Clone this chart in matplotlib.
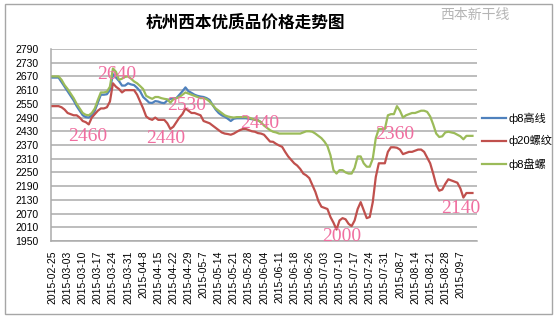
import matplotlib
matplotlib.use("Agg")
import matplotlib.pyplot as plt
import numpy as np
from matplotlib.patches import Rectangle

# ------------------------------------------------------------------
# data: daily quotes, five trading days per weekly tick label
# ------------------------------------------------------------------
WEEK_LABELS = [
    "2015-02-25", "2015-03-03", "2015-03-10", "2015-03-17", "2015-03-24",
    "2015-03-31", "2015-04-8", "2015-04-15", "2015-04-22", "2015-04-29",
    "2015-05-7", "2015-05-14", "2015-05-21", "2015-05-28", "2015-06-04",
    "2015-06-11", "2015-06-18", "2015-06-26", "2015-07-03", "2015-07-10",
    "2015-07-17", "2015-07-24", "2015-07-31", "2015-08-7", "2015-08-14",
    "2015-08-21", "2015-08-28", "2015-09-7",
]
DAYS_PER_LABEL = 5

# ф8高线 (quotes stop in early June)
WIRE_ROD = [
    2665, 2665, 2665, 2645, 2625,
    2605, 2585, 2565, 2540, 2520,
    2500, 2492, 2490, 2500, 2520,
    2555, 2590, 2590, 2592, 2610,
    2680, 2665, 2650, 2630, 2630,
    2640, 2635, 2632, 2620, 2605,
    2580, 2568, 2555, 2554, 2562,
    2560, 2555, 2553, 2565, 2572,
    2574, 2575, 2590, 2605, 2622,
    2605, 2598, 2590, 2585, 2582,
    2580, 2575, 2567, 2545, 2525,
    2510, 2500, 2494, 2485, 2475,
    2485, 2487, 2487, 2487, 2487,
    2485, 2483, 2480, 2478, 2470,
]

# ф20螺纹
REBAR = [
    2540, 2540, 2540, 2535, 2525,
    2510, 2505, 2500, 2500, 2490,
    2475, 2470, 2460, 2490, 2505,
    2520, 2530, 2530, 2535, 2560,
    2640, 2625, 2615, 2600, 2610,
    2610, 2610, 2610, 2590, 2560,
    2530, 2495, 2485, 2480, 2490,
    2480, 2480, 2480, 2465, 2440,
    2450, 2470, 2490, 2505, 2530,
    2520, 2510, 2510, 2505, 2500,
    2475, 2470, 2465, 2455, 2445,
    2435, 2425, 2420, 2418, 2415,
    2420, 2428, 2435, 2440, 2440,
    2435, 2430, 2428, 2422, 2420,
    2415, 2400, 2385, 2384, 2375,
    2368, 2362, 2340, 2320, 2305,
    2290, 2280, 2265, 2245, 2237,
    2225, 2195, 2165, 2125, 2100,
    2095, 2090, 2055, 2030, 2000,
    2040, 2050, 2045, 2025, 2015,
    2040, 2090, 2120, 2085, 2050,
    2055, 2120, 2230, 2290, 2290,
    2290, 2340, 2360, 2360, 2358,
    2350, 2330, 2335, 2340, 2340,
    2345, 2350, 2350, 2340, 2315,
    2290, 2245, 2195, 2170, 2175,
    2200, 2220, 2215, 2210, 2205,
    2180, 2140, 2160, 2160, 2160,
]

# ф8盘螺
COIL = [
    2670, 2670, 2670, 2655, 2632,
    2615, 2595, 2575, 2550, 2530,
    2510, 2502, 2500, 2510, 2530,
    2567, 2600, 2600, 2603, 2625,
    2705, 2690, 2655, 2660, 2668,
    2670, 2660, 2648, 2640, 2628,
    2615, 2585, 2578, 2572, 2580,
    2580, 2575, 2572, 2570, 2555,
    2570, 2575, 2580, 2590, 2600,
    2595, 2590, 2585, 2580, 2575,
    2575, 2570, 2560, 2545, 2530,
    2520, 2510, 2500, 2495, 2492,
    2490, 2492, 2492, 2492, 2492,
    2490, 2485, 2480, 2478, 2470,
    2455, 2445, 2435, 2428, 2425,
    2420, 2420, 2420, 2420, 2420,
    2420, 2420, 2420, 2425, 2430,
    2430, 2428, 2420, 2410, 2400,
    2385, 2365, 2325, 2260, 2245,
    2260, 2260, 2250, 2245, 2245,
    2270, 2320, 2320, 2290, 2275,
    2275, 2310, 2400, 2440, 2440,
    2440, 2500, 2505, 2505, 2540,
    2520, 2490, 2500, 2505, 2510,
    2510, 2515, 2520, 2520, 2515,
    2495, 2460, 2420, 2405, 2408,
    2425, 2428, 2425, 2422, 2415,
    2408, 2395, 2410, 2410, 2410,
]

# rebar days whose price is written on the chart
REBAR_MARKED_DAYS = [20, 12, 39, 44, 63, 112, 94, 136]
# text offsets from each marked point, in points
MARK_OFFSETS = [(3, 6), (-1, -9), (-3, -7), (1, 2), (12, 4), (3, 9), (4, -5), (-2, -8)]

SERIES_NAMES = ["ф8高线", "ф20螺纹", "ф8盘螺"]
SERIES_COLORS = ["#4F81BD", "#C0504D", "#9BBB59"]

# ------------------------------------------------------------------
# style
# ------------------------------------------------------------------
plt.rcParams.update({
    "font.family": ["Liberation Sans", "Noto Sans CJK SC", "DejaVu Sans"],
    "font.size": 7.5,
})
GRID_COLOR = "#ABABAB"
MARK_COLOR = "#F06EA0"

W, H = 558, 322
fig = plt.figure(figsize=(W / 100, H / 100), dpi=100)
fig.patch.set_facecolor("white")

# chart area frame
fig.add_artist(Rectangle((5 / W, 8 / H), 547 / W, 310 / H, transform=fig.transFigure,
                         fill=False, edgecolor="#A6A6A6", linewidth=1.0))

ax = fig.add_axes([51 / W, 81 / H, 426 / W, 192 / H])

for values, color, name in zip([WIRE_ROD, REBAR, COIL], SERIES_COLORS, SERIES_NAMES):
    ax.plot(np.arange(len(values)), values, color=color, linewidth=1.6,
            solid_joinstyle="round", label=name, zorder=3)

for day, (dx, dy) in zip(REBAR_MARKED_DAYS, MARK_OFFSETS):
    ax.annotate(str(REBAR[day]), xy=(day, REBAR[day]), xytext=(dx, dy),
                textcoords="offset points", ha="center", va="center",
                fontsize=14, color=MARK_COLOR, family="Liberation Serif", zorder=4)

n_days = len(WEEK_LABELS) * DAYS_PER_LABEL
ax.set_xlim(-0.5, n_days + 0.5)
ax.set_ylim(1950, 2790)
ax.set_yticks(np.arange(1950, 2791, 60))
ax.set_xticks(np.arange(0, n_days, DAYS_PER_LABEL))
ax.set_xticklabels(WEEK_LABELS, rotation=90)
ax.tick_params(axis="both", length=0, labelsize=7.5)
ax.tick_params(axis="y", pad=9)
ax.tick_params(axis="x", pad=7)

ax.grid(True, axis="y", color=GRID_COLOR, linewidth=1.1)
ax.set_axisbelow(True)
for side in ["top", "right"]:
    ax.spines[side].set_visible(False)
for side in ["left", "bottom"]:
    ax.spines[side].set_color(GRID_COLOR)
    ax.spines[side].set_linewidth(1.1)

fig.legend(loc="center left", bbox_to_anchor=(482 / W, (H - 141) / H), frameon=False,
           fontsize=8, handlelength=2.2, handletextpad=0.15, labelspacing=1.05,
           borderpad=0, borderaxespad=0)

fig.text(245 / W, (H - 23) / H, "杭州西本优质品价格走势图", ha="center", va="center",
         fontsize=12, fontweight="bold", family=["Noto Sans CJK SC"])
fig.text(440 / W, (H - 15) / H, "西本新干线", ha="left", va="center",
         fontsize=10, color="#B5B5B5", family=["Noto Sans CJK SC"])

fig.savefig("out.png", dpi=100)
